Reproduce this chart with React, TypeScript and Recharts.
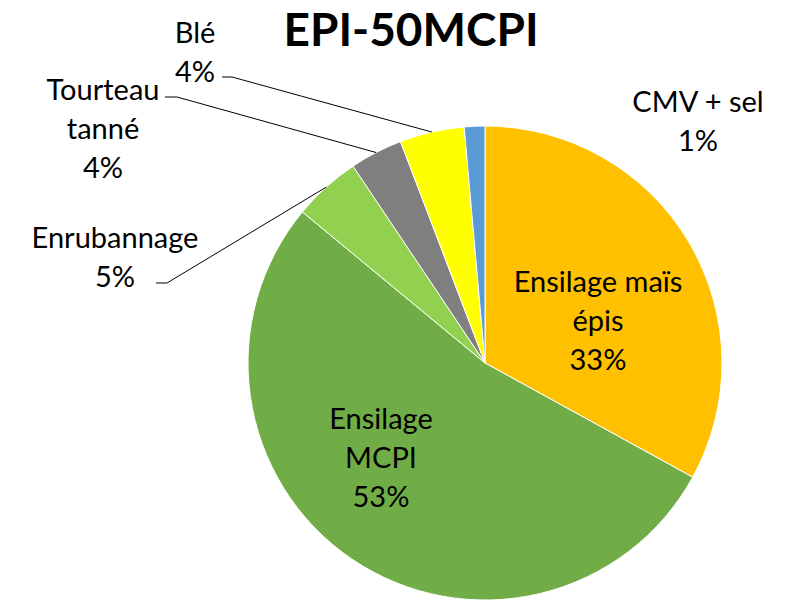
import { PieChart, Pie, Cell } from "recharts";

// slices clockwise from 12 o'clock
const categories = [
  "Ensilage maïs\népis",
  "Ensilage\nMCPI",
  "Enrubannage",
  "Tourteau\ntanné",
  "Blé",
  "CMV + sel",
];
const shares = [33.0, 53.0, 4.6, 3.6, 4.4, 1.4];
const colors = ["#FFC000", "#70AD47", "#92D050", "#7F7F7F", "#FFFF00", "#5B9BD5"];

const data = categories.map((name, i) => ({ name, value: shares[i] }));

const FONT = "Lato, 'Open Sans', sans-serif";
const LINE_H = 39;
const RAD = Math.PI / 180;

// hand-placed label boxes (x = centre, y = first baseline), like the Excel original
const labelLayout: Record<string, { x: number; y: number; line?: [number, number, number] }> = {
  "Ensilage maïs\népis": { x: 598, y: 292 },
  "Ensilage\nMCPI": { x: 381, y: 429 },
  Enrubannage: { x: 115, y: 248, line: [156, 167, 283] },
  "Tourteau\ntanné": { x: 103, y: 100, line: [165, 177, 97] },
  "Blé": { x: 195, y: 43, line: [222, 232, 77] },
  "CMV + sel": { x: 698, y: 112 },
};

function renderLabel(props: any) {
  const { cx, cy, midAngle, outerRadius, percent, name } = props;
  const lay = labelLayout[name];
  if (!lay) return null;
  const lines = [...name.split("\n"), `${Math.round(percent * 100)}%`];
  let leader = null;
  if (lay.line) {
    const [x0, x1, yl] = lay.line;
    const ex = cx + outerRadius * Math.cos(-midAngle * RAD);
    const ey = cy + outerRadius * Math.sin(-midAngle * RAD);
    leader = (
      <polyline points={`${x0},${yl} ${x1},${yl} ${ex},${ey}`} fill="none" stroke="#000" strokeWidth={1} />
    );
  }
  return (
    <g>
      {leader}
      <text x={lay.x} y={lay.y} textAnchor="middle" fontFamily={FONT} fontSize={29} fill="#000">
        {lines.map((l: string, i: number) => (
          <tspan key={i} x={lay.x} y={lay.y + i * LINE_H}>
            {l}
          </tspan>
        ))}
      </text>
    </g>
  );
}

export default function App() {
  return (
    <div style={{ position: "absolute", left: 0, top: 0, width: 785, height: 600, background: "#fff" }}>
      <PieChart width={785} height={600} margin={{ top: 0, right: 0, bottom: 0, left: 0 }}>
        <text x={411} y={46} textAnchor="middle" fontFamily={FONT} fontWeight={700} fontSize={46} fill="#000">
          EPI-50MCPI
        </text>
        <Pie
          data={data}
          dataKey="value"
          nameKey="name"
          cx={485}
          cy={363}
          outerRadius={237}
          startAngle={90}
          endAngle={-270}
          stroke="#fff"
          strokeWidth={1}
          label={renderLabel}
          labelLine={false}
          isAnimationActive={false}
        >
          {data.map((d, i) => (
            <Cell key={d.name} fill={colors[i]} />
          ))}
        </Pie>
      </PieChart>
    </div>
  );
}
